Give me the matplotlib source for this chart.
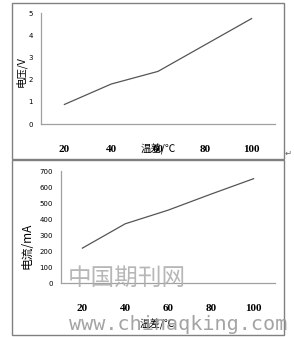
import numpy as np
import matplotlib
matplotlib.use('Agg')
from matplotlib import pyplot as plt
from matplotlib.patches import Rectangle

temps = ['20', '40', '60', '80', '100']
voltage = [0.88, 1.80, 2.37, 3.56, 4.75]
current = [218, 370, 455, 555, 652]
v_ticks = [0, 1, 2, 3, 4, 5]
i_ticks = [0, 100, 200, 300, 400, 500, 600, 700]

cjk = ['Noto Sans CJK SC', 'DejaVu Sans']

fig = plt.figure(figsize=(2.94, 3.37), dpi=100)
W, H = 294, 337

def fx(px):
    return px / W

def fy(py):
    return 1 - py / H

# outer frames
for (x0, y0, x1, y1) in [(12, 3, 284, 159), (12, 160, 284, 335)]:
    fig.patches.append(Rectangle((fx(x0), fy(y1)), fx(x1 - x0), (y1 - y0) / H,
                                 transform=fig.transFigure, fill=False,
                                 edgecolor='#808080', lw=1.0))

def setup(ax, ticks, ymax):
    for s in ['top', 'right']:
        ax.spines[s].set_visible(False)
    for s in ['left', 'bottom']:
        ax.spines[s].set_color('#a0a0a0')
        ax.spines[s].set_linewidth(0.9)
    ax.set_xlim(-0.5, 4.5)
    ax.set_ylim(0, ymax)
    ax.set_xticks(range(len(temps)))
    ax.set_xticklabels(temps, fontsize=8, fontweight='bold', family='Liberation Serif')
    ax.set_yticks(ticks)
    ax.set_yticklabels([str(t) for t in ticks], fontsize=5)
    ax.tick_params(axis='x', length=0, pad=15)
    ax.tick_params(axis='y', length=0, pad=6)

# top chart
ax1 = fig.add_axes([fx(41), fy(124), fx(275 - 41), (124 - 13) / H])
ax1.plot(range(len(temps)), voltage, color='#555555', lw=0.9)
setup(ax1, v_ticks, 5)
ax1.text(-0.085, 0.47, '电压/V', rotation=90, family=cjk, fontsize=7.5,
         transform=ax1.transAxes, ha='center', va='center')
ax1.text(0.5, -0.23, '温差/℃', family=cjk, fontsize=7.5,
         transform=ax1.transAxes, ha='center', va='center')

# bottom chart
ax2 = fig.add_axes([fx(61), fy(283), fx(275 - 61), (283 - 171) / H])
ax2.plot(range(len(temps)), current, color='#555555', lw=0.9)
setup(ax2, i_ticks, 700)
ax2.text(-0.16, 0.33, '电流/mA', rotation=90, family=cjk, fontsize=8.5,
         transform=ax2.transAxes, ha='center', va='center')
ax2.text(0.45, -0.37, '温差/℃', family=cjk, fontsize=7.5,
         transform=ax2.transAxes, ha='center', va='center')

# watermark
fig.text(fx(127), fy(278), '中国期刊网', family=cjk, fontsize=17,
         color='#b0b0b0', ha='center', va='center', alpha=0.9)
fig.text(fx(178), fy(325), 'www.chinaqking.com', family='DejaVu Sans Mono',
         fontsize=14.5, color='#9a9a9a', ha='center', va='center', alpha=0.9)

# return marks
fig.text(fx(288), fy(153), '↵', fontsize=6, color='#606060', ha='center', va='center')

fig.savefig('out.png', dpi=100)
